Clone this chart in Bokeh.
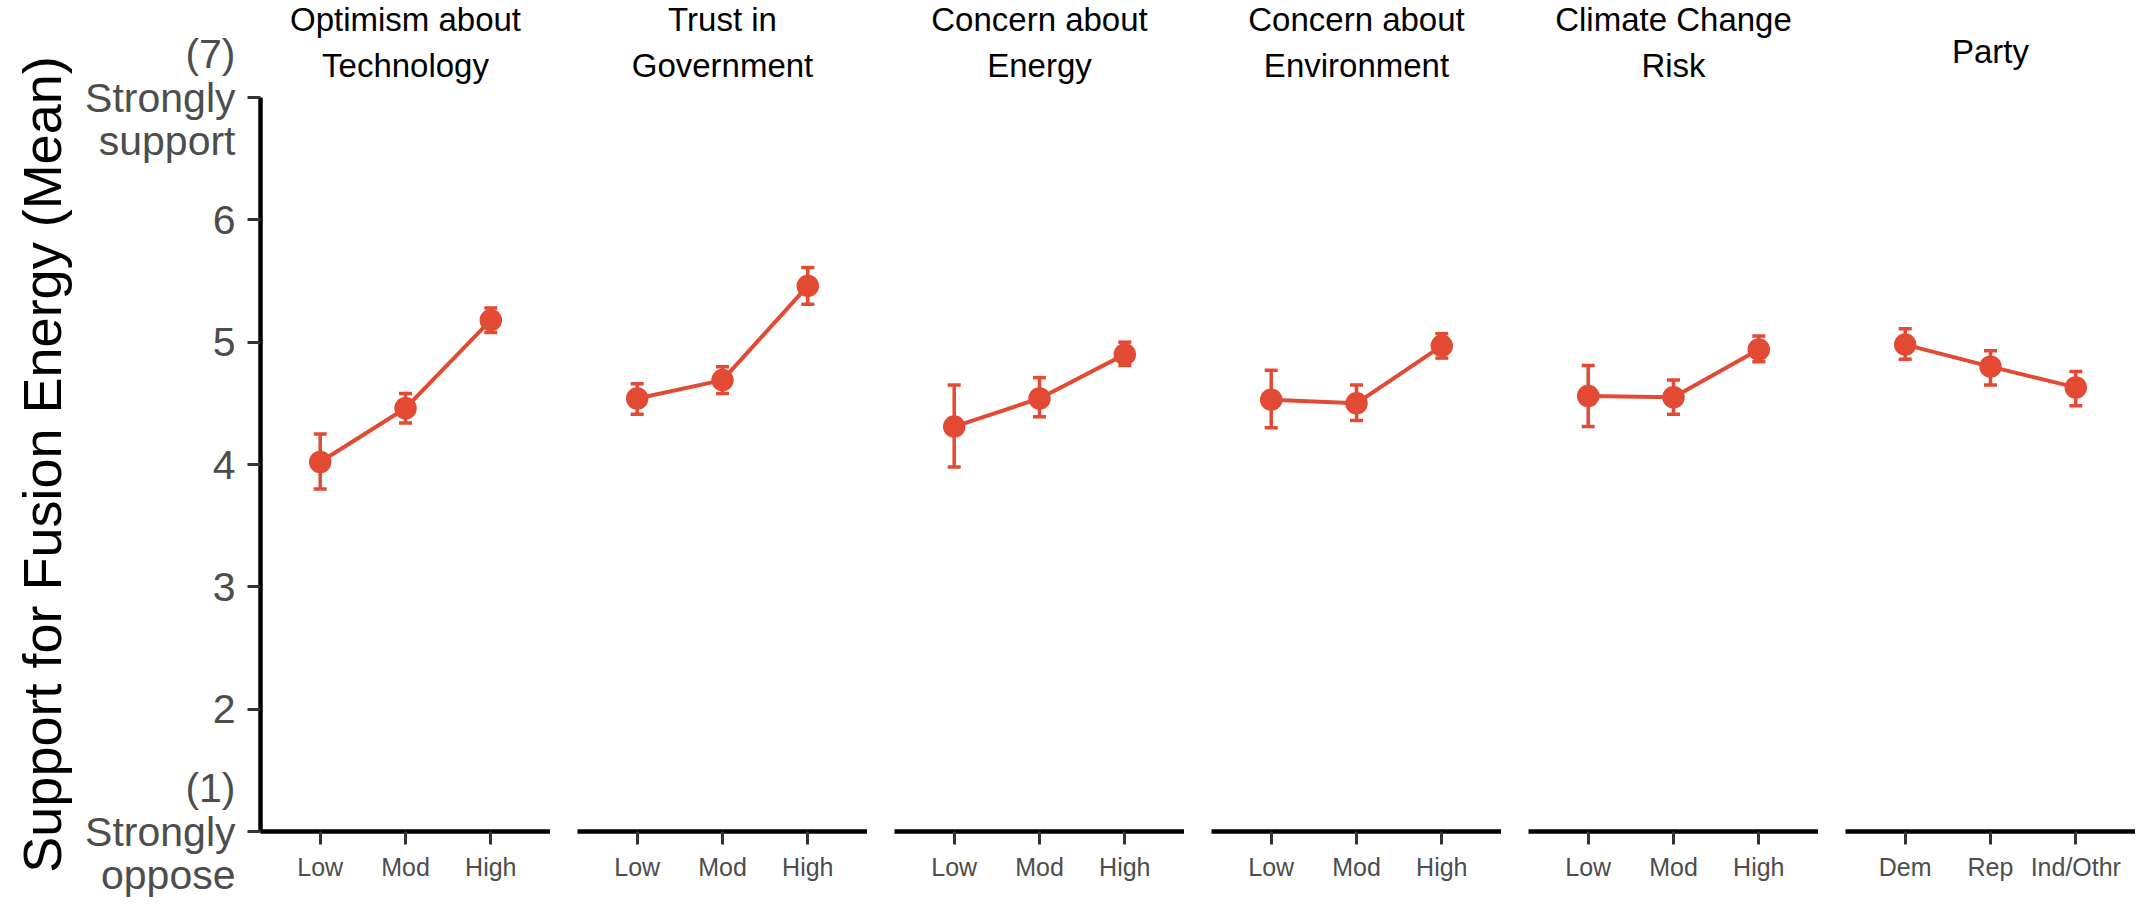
from bokeh.plotting import figure
from bokeh.layouts import row
from bokeh.models import (Range1d, FactorRange, FixedTicker, Whisker, TeeHead,
                          ColumnDataSource, Title)
from bokeh.embed import file_html
from bokeh.resources import INLINE

# ---------------- data ----------------
panel_titles = ["Optimism about\nTechnology", "Trust in\nGovernment", "Concern about\nEnergy",
                "Concern about\nEnvironment", "Climate Change\nRisk", "Party"]

levels = ["Low", "Mod", "High"]
party_levels = ["Dem", "Rep", "Ind/Othr"]

tech_mean = [4.02, 4.46, 5.18]
tech_lo = [3.80, 4.34, 5.08]
tech_hi = [4.25, 4.58, 5.28]

gov_mean = [4.54, 4.69, 5.46]
gov_lo = [4.41, 4.58, 5.31]
gov_hi = [4.66, 4.80, 5.61]

energy_mean = [4.31, 4.54, 4.90]
energy_lo = [3.98, 4.39, 4.81]
energy_hi = [4.65, 4.71, 5.00]

env_mean = [4.53, 4.50, 4.97]
env_lo = [4.30, 4.36, 4.87]
env_hi = [4.77, 4.65, 5.07]

climate_mean = [4.56, 4.55, 4.94]
climate_lo = [4.31, 4.41, 4.84]
climate_hi = [4.81, 4.69, 5.05]

party_mean = [4.98, 4.80, 4.63]
party_lo = [4.86, 4.65, 4.48]
party_hi = [5.11, 4.93, 4.76]

y_ticks = [1, 2, 3, 4, 5, 6, 7]
y_label_overrides = {1: "(1)\nStrongly\noppose", 7: "(7)\nStrongly\nsupport"}
y_title = "Support for Fusion Energy (Mean)"

panels = [
    (levels, tech_mean, tech_lo, tech_hi),
    (levels, gov_mean, gov_lo, gov_hi),
    (levels, energy_mean, energy_lo, energy_hi),
    (levels, env_mean, env_lo, env_hi),
    (levels, climate_mean, climate_lo, climate_hi),
    (party_levels, party_mean, party_lo, party_hi),
]

# ---------------- styling ----------------
COLOR = "#E34A33"
FONT = "Liberation Sans"
FRAME_W = 290
GAP = 27
LEFT = 260
TOP = 97
BOTTOM = 74
H = 905


def strip_title(text, standoff):
    return Title(text=text, align="center", text_font=FONT, text_font_size="33px",
                 text_font_style="normal", text_color="black", standoff=standoff)


figs = []
for i, (cats, mean, lo, hi) in enumerate(panels):
    first = i == 0
    width = (LEFT if first else GAP) + FRAME_W
    p = figure(
        width=width, height=H,
        x_range=FactorRange(factors=cats, range_padding=0.2, range_padding_units="absolute"),
        y_range=Range1d(1, 7),
        y_axis_location="left" if first else None,
        output_backend="svg", toolbar_location=None,
        min_border_left=LEFT if first else GAP, min_border_right=0,
        min_border_top=TOP, min_border_bottom=BOTTOM,
    )
    # facet strip: each line its own centred title (nearest the frame added first)
    lines = panel_titles[i].split("\n")
    if len(lines) == 2:
        p.add_layout(strip_title(lines[1], 27), "above")
        p.add_layout(strip_title(lines[0], -12), "above")
    else:
        p.add_layout(strip_title(lines[0], 56), "above")

    p.outline_line_color = None
    p.xgrid.visible = False
    p.ygrid.visible = False
    p.background_fill_color = "white"
    p.border_fill_color = "white"

    src = ColumnDataSource(dict(x=cats, y=mean, lo=lo, hi=hi))
    w = Whisker(base="x", lower="lo", upper="hi", source=src,
                line_color=COLOR, line_width=3.5,
                upper_head=TeeHead(size=13, line_color=COLOR, line_width=3.5),
                lower_head=TeeHead(size=13, line_color=COLOR, line_width=3.5))
    p.add_layout(w)
    p.line("x", "y", source=src, line_color=COLOR, line_width=4)
    p.scatter("x", "y", source=src, size=21, fill_color=COLOR, line_color=COLOR,
              line_width=1.5)

    # x axis
    xa = p.xaxis[0]
    xa.axis_line_color = "black"
    xa.axis_line_width = 4.5
    xa.major_tick_line_color = "#333333"
    xa.major_tick_line_width = 3
    xa.major_tick_out = 13
    xa.major_tick_in = 0
    xa.major_label_text_font = FONT
    xa.major_label_text_font_size = "25px"
    xa.major_label_text_color = "#4D4D4D"
    xa.major_label_standoff = 8

    if first:
        ya = p.yaxis[0]
        ya.ticker = FixedTicker(ticks=y_ticks)
        ya.major_label_overrides = y_label_overrides
        ya.axis_line_color = "black"
        ya.axis_line_width = 4.5
        ya.major_tick_line_color = "#333333"
        ya.major_tick_line_width = 3
        ya.major_tick_out = 13
        ya.major_tick_in = 0
        ya.minor_tick_line_color = None
        ya.major_label_text_font = FONT
        ya.major_label_text_font_size = "41px"
        ya.major_label_text_line_height = 0.95
        ya.major_label_text_color = "#4D4D4D"
        ya.major_label_standoff = 12
        ya.axis_label = y_title
        ya.axis_label_text_font = FONT
        ya.axis_label_text_font_size = "54px"
        ya.axis_label_text_font_style = "normal"
        ya.axis_label_text_color = "black"
        ya.axis_label_standoff = 10

    figs.append(p)

layout = row(*figs, spacing=0)
open("out.html", "w").write(file_html(layout, INLINE))
